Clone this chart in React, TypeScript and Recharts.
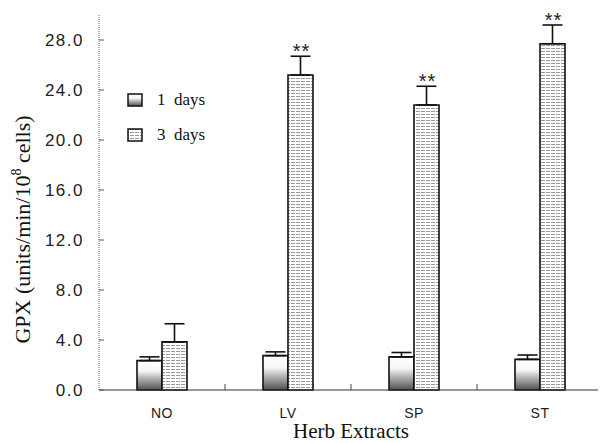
import React from 'react';
import { ComposedChart, Bar, XAxis, YAxis, ErrorBar, LabelList, Legend } from 'recharts';

// extracts on the x axis
const extracts = ['NO', 'LV', 'SP', 'ST'];
// GPX, units/min/10^8 cells
const day1Values = [2.35, 2.75, 2.65, 2.45];
const day1Errors = [0.3, 0.3, 0.35, 0.35];
const day3Values = [3.85, 25.2, 22.8, 27.7];
const day3Errors = [1.45, 1.5, 1.5, 1.5];
const day3Marks = ['', '**', '**', '**'];
const yTicks = [0, 4, 8, 12, 16, 20, 24, 28];

const data = extracts.map((name, i) => ({
  name,
  d1: day1Values[i],
  d1Err: [0, day1Errors[i]],
  d3: day3Values[i],
  d3Err: [0, day3Errors[i]],
  d3Top: day3Errors[i], // invisible stack piece, carries the ** label
  mark: day3Marks[i],
}));

const SANS = '"Liberation Sans", Arial, sans-serif';
const SERIF = '"Liberation Serif", "Times New Roman", serif';

const YTick = (props: any) => {
  const { y, payload } = props;
  return (
    <g>
      <line x1={91} x2={96} y1={y} y2={y} stroke="#555" strokeWidth={1} />
      <text x={76} y={y} dy={6} textAnchor="end" fontFamily={SANS} fontSize={17} letterSpacing={1.5} fill="#222">
        {payload.value.toFixed(1)}
      </text>
    </g>
  );
};

const XTick = (props: any) => {
  const { x, y, payload, index } = props;
  return (
    <g>
      {index > 0 && <line x1={x - 63} x2={x - 63} y1={y - 8} y2={y - 14} stroke="#444" strokeWidth={1} />}
      <text x={x} y={y} dy={20} textAnchor="middle" fontFamily={SANS} fontSize={14} letterSpacing={0.5} fill="#222">
        {payload.value}
      </text>
    </g>
  );
};

const YLabel = (props: any) => {
  const { viewBox } = props;
  const cx = 22;
  const cy = viewBox.y + viewBox.height / 2 + 27;
  return (
    <text
      x={cx}
      y={cy}
      transform={`rotate(-90, ${cx}, ${cy})`}
      textAnchor="middle"
      fontFamily={SERIF}
      fontSize={22}
      fill="#111"
    >
      GPX (units/min/10
      <tspan fontSize={14} dy={-9}>8</tspan>
      <tspan dy={9}> cells)</tspan>
    </text>
  );
};

const Stars = (props: any) => {
  const { x, y, width, value } = props;
  if (!value) return null;
  return (
    <text x={x + width / 2 + 1} y={y + 2} textAnchor="middle" fontFamily={SANS} fontSize={20} letterSpacing={1} fill="#222">
      {value}
    </text>
  );
};

const LegendBox = () => (
  <div style={{ fontFamily: SERIF, fontSize: 17, color: '#111' }}>
    {[
      { fill: 'url(#d1Fill)', label: '1  days' },
      { fill: 'url(#d3Fill)', label: '3  days' },
    ].map((item, i) => (
      <div key={i} style={{ display: 'flex', alignItems: 'center', height: 35 }}>
        <svg width={16} height={14} style={{ marginRight: 14 }}>
          <rect x={1} y={1} width={14} height={12} fill={item.fill} stroke="#111" strokeWidth={1.5} />
        </svg>
        <span style={{ whiteSpace: 'pre' }}>{item.label}</span>
      </div>
    ))}
  </div>
);

export default function App() {
  return (
    <ComposedChart
      width={598}
      height={435}
      data={data}
      margin={{ top: 7, right: 3, bottom: 0, left: 0 }}
      barGap={0}
      style={{ background: '#fff' }}
    >
      <defs>
        <linearGradient id="d1Fill" x1="0" y1="0" x2="0" y2="1">
          <stop offset="0%" stopColor="#ffffff" />
          <stop offset="35%" stopColor="#f6f6f6" />
          <stop offset="60%" stopColor="#b4b4b4" />
          <stop offset="100%" stopColor="#505050" />
        </linearGradient>
        <pattern id="d3Fill" width={5} height={3} patternUnits="userSpaceOnUse">
          <rect width={5} height={3} fill="#ffffff" />
          <line x1={0} x2={5} y1={1.5} y2={1.5} stroke="#9a9a9a" strokeWidth={1} strokeDasharray="2 1" />
        </pattern>
      </defs>
      <XAxis
        dataKey="name"
        height={53}
        tickLine={false}
        tick={<XTick />}
        axisLine={{ stroke: '#333', strokeWidth: 1.2 }}
        label={{ value: 'Herb Extracts', position: 'insideBottom', offset: 5, fontFamily: SERIF, fontSize: 21, fill: '#111' }}
      />
      <YAxis
        width={91}
        domain={[0, 30]}
        ticks={yTicks}
        interval={0}
        tickLine={false}
        tick={<YTick />}
        axisLine={{ stroke: '#666', strokeWidth: 1, strokeDasharray: '1 1' }}
        label={<YLabel />}
      />
      <Legend
        layout="horizontal"
        verticalAlign="middle"
        align="center"
        content={<LegendBox />}
        wrapperStyle={{ position: 'absolute', left: 119, top: 74, width: 120 }}
      />
      <Bar dataKey="d1" stackId="a" barSize={25} fill="url(#d1Fill)" stroke="#111" strokeWidth={1.6} isAnimationActive={false} legendType="none">
        <ErrorBar dataKey="d1Err" width={10} stroke="#111" strokeWidth={1.6} direction="y" />
      </Bar>
      <Bar dataKey="d3" stackId="b" barSize={25} fill="url(#d3Fill)" stroke="#111" strokeWidth={1.6} isAnimationActive={false} legendType="none">
        <ErrorBar dataKey="d3Err" width={10} stroke="#111" strokeWidth={1.6} direction="y" />
      </Bar>
      <Bar dataKey="d3Top" stackId="b" barSize={25} fill="none" stroke="none" isAnimationActive={false} legendType="none">
        <LabelList dataKey="mark" content={<Stars />} />
      </Bar>
    </ComposedChart>
  );
}
